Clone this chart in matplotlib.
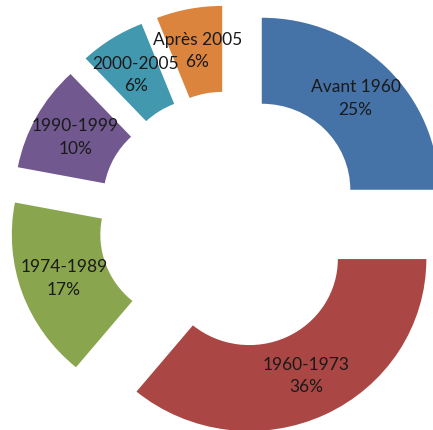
import matplotlib
matplotlib.use("Agg")
import matplotlib.pyplot as plt

categories = ["Avant 1960", "1960-1973", "1974-1989", "1990-1999", "2000-2005", "Après 2005"]
values = [25, 36, 17, 10, 6, 6]
colors = ["#4572A7", "#AA4643", "#89A54E", "#71588F", "#4198AF", "#DB843D"]

plt.rcParams['font.family'] = ['Lato', 'DejaVu Sans']

fig = plt.figure(figsize=(4.33, 4.30), dpi=100)
ax = fig.add_axes([0, 0, 1, 1])

labels = [f"{c}\n{v}%" for c, v in zip(categories, values)]
wedges, texts = ax.pie(values, labels=labels, colors=colors, startangle=90,
                       counterclock=False, explode=[0.25] * len(values),
                       radius=1.0, labeldistance=0.75,
                       wedgeprops=dict(width=0.5, linewidth=0))
for t in texts:
    t.set_ha('center')
    t.set_va('center')
    t.set_fontsize(12.5)
    t.set_color('#1a1a1a')
    t.set_linespacing(1.5)

ax.set_aspect('auto')
ax.set_xlim(-1.302, 1.144)
ax.set_ylim(-1.220, 1.280)
ax.axis('off')
fig.savefig("out.png", dpi=100)
